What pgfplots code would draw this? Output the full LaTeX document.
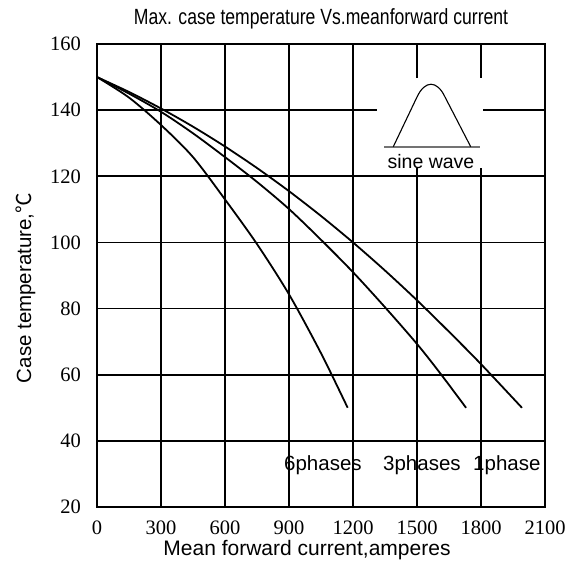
\documentclass[border=0pt]{standalone}
\usepackage{pgfplots}
\pgfplotsset{compat=1.18}
\usepackage{fontspec}
\setmainfont{Liberation Serif}
\newfontfamily\sans{Liberation Sans}
\newfontfamily\cjk{Noto Sans CJK SC}

\begin{document}
\begin{tikzpicture}
% bounding box: image 576 x 564 px, origin top-left
\path (0pt,0pt) rectangle (576pt,-564pt);
\begin{axis}[
  name=ax,
  at={(97pt,-507pt)}, anchor=south west,
  scale only axis, width=448pt, height=463pt,
  xmin=0, xmax=2100, ymin=20, ymax=160,
  xtick={0,300,...,2100}, ytick={20,40,...,160},
  scaled ticks=false,
  /pgf/number format/1000 sep={},
  /pgf/number format/assume math mode=true,
  grid=major,
  major grid style={black, line width=1.6pt},
  major tick length=0pt,
  axis line style={black, line width=2.3pt},
  xticklabel style={font=\fontsize{20.5}{20}\selectfont, anchor=base, yshift=-27pt},
  yticklabel style={font=\fontsize{20.5}{20}\selectfont, anchor=east, inner sep=0pt, xshift=-16pt},
]
% 6 phases
\addplot[black, line width=1.8pt, smooth] coordinates {
 (0,150) (150,143.8) (300,135.5) (450,125.8) (600,113) (750,99.5) (900,84.3) (1050,66.5) (1175,50)
};
% 3 phases
\addplot[black, line width=1.8pt, smooth] coordinates {
 (0,150) (150,145) (300,139.5) (450,133) (600,125.8) (750,118.3) (900,110.1) (1050,100.8) (1200,91) (1350,80.4) (1500,69.3) (1608,60.5) (1730,50)
};
% 1 phase
\addplot[black, line width=1.8pt, smooth] coordinates {
 (0,150) (150,145.5) (300,140.5) (450,135) (600,129) (750,122.5) (900,115.5) (1050,108) (1200,100) (1350,91.5) (1500,82.5) (1650,73) (1800,63.2) (1992,50)
};
\end{axis}
\begin{scope}[x=1pt, y=-1pt]
  % inset
  \fill[white] (377,78) rectangle (483,168);
  \draw[black!55, line width=1.3pt] (384,147) -- (480,147);
  \draw[black, line width=1.1pt] (393.3,146.7) -- (417,97) .. controls (425,80) and (437,80) .. (445,97) -- (470.7,146.7);
  \node[anchor=base, inner sep=0pt, font=\sans\fontsize{19.5}{19}\selectfont] at (431,169) {sine wave};
  % phase labels
  \node[anchor=base west, inner sep=0pt, font=\sans\fontsize{20.5}{20}\selectfont] at (284,470) {6phases};
  \node[anchor=base west, inner sep=0pt, font=\sans\fontsize{20.5}{20}\selectfont] at (383,470) {3phases};
  \node[anchor=base west, inner sep=0pt, font=\sans\fontsize{20.5}{20}\selectfont] at (473,470) {1phase};
  % title
  \node[anchor=base, inner sep=0pt, font=\sans\fontsize{22}{22}\selectfont] at (321,25) {\scalebox{0.8}[1]{Max. case temperature Vs.meanforward current}};
  % axis labels
  \node[anchor=base, inner sep=0pt, font=\sans\fontsize{21}{21}\selectfont] at (307,555) {Mean forward current,amperes};
  \node[anchor=base, rotate=90, inner sep=0pt, font=\sans\fontsize{20.5}{20}\selectfont] at (31,288) {Case temperature,{\cjk ℃}};
\end{scope}
\end{tikzpicture}
\end{document}
